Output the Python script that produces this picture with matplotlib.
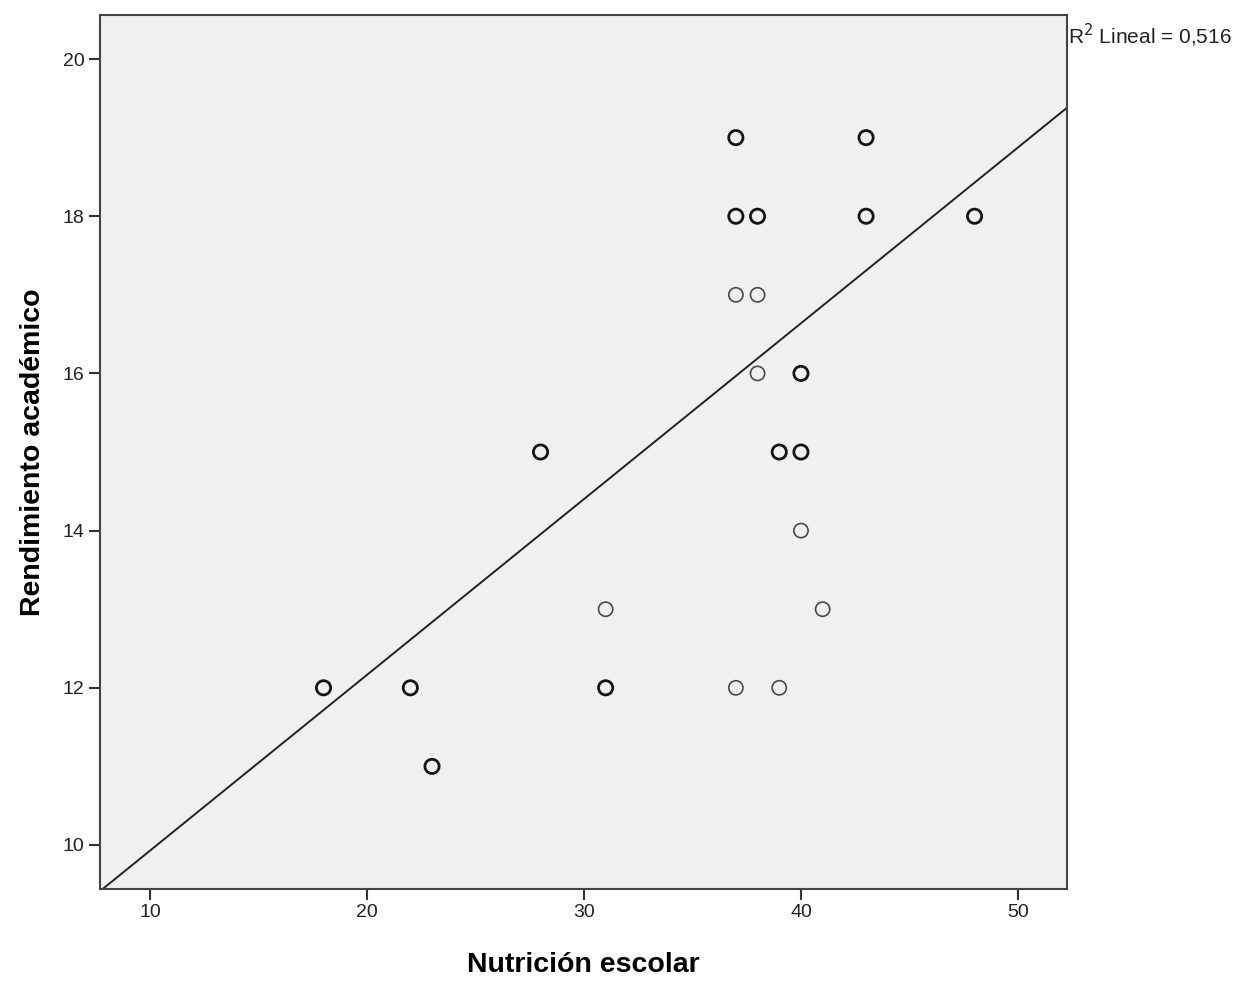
import matplotlib
matplotlib.use("Agg")
import matplotlib.pyplot as plt
import numpy as np

plt.rcParams['font.family'] = ['Liberation Sans', 'DejaVu Sans']

# Nutrición escolar vs. Rendimiento académico
nutricion = [37, 43, 37, 38, 43, 48, 37, 38, 38, 40, 28, 39, 40, 40, 31, 41, 18, 22, 31, 37, 39, 23]
rendimiento = [19, 19, 18, 18, 18, 18, 17, 17, 16, 16, 15, 15, 15, 14, 13, 13, 12, 12, 12, 12, 12, 11]
# number of cases sharing each coordinate
casos = [2, 2, 2, 2, 2, 2, 1, 1, 1, 2, 2, 2, 2, 1, 1, 1, 2, 2, 2, 1, 1, 2]

# linear fit
intercepto = 7.69
pendiente = 0.2237
r2 = 0.516

x_ticks = [10, 20, 30, 40, 50]
y_ticks = [10, 12, 14, 16, 18, 20]
x_lim = (7.7, 52.26)
y_lim = (9.44, 20.56)

fig = plt.figure(figsize=(12.39, 9.82), dpi=100)
ax = fig.add_axes([0.0807, 0.0947, 0.7805, 0.890])
ax.set_facecolor('#F0F0F0')

x = np.array(nutricion, dtype=float)
y = np.array(rendimiento, dtype=float)
c = np.array(casos)
lw = np.where(c > 1, 2.0, 1.2)
ec = np.where(c > 1, '#151515', '#4a4a4a')
ax.scatter(x, y, s=105, facecolors='none', edgecolors=list(ec), linewidths=lw, zorder=3)

xl = np.array(x_lim)
ax.plot(xl, intercepto + pendiente * xl, color='#222222', lw=1.4, zorder=2)

ax.set_xlim(*x_lim)
ax.set_ylim(*y_lim)
ax.set_xticks(x_ticks)
ax.set_yticks(y_ticks)
ax.tick_params(axis='both', direction='out', length=8, width=1.5, color='#333333',
               labelsize=14, labelcolor='#222222', pad=3)
for sp in ax.spines.values():
    sp.set_color('#444444')
    sp.set_linewidth(1.5)

ax.set_xlabel('Nutrición escolar', fontsize=20.5, fontweight='bold', labelpad=22)
ax.set_ylabel('Rendimiento académico', fontsize=20.5, fontweight='bold', labelpad=12)

fig.text(0.8620, 0.964, 'R$^2$ Lineal = ' + f'{r2:.3f}'.replace('.', ','),
         fontsize=15, color='#222222', ha='left', va='center')

fig.savefig('out.png', dpi=100)
